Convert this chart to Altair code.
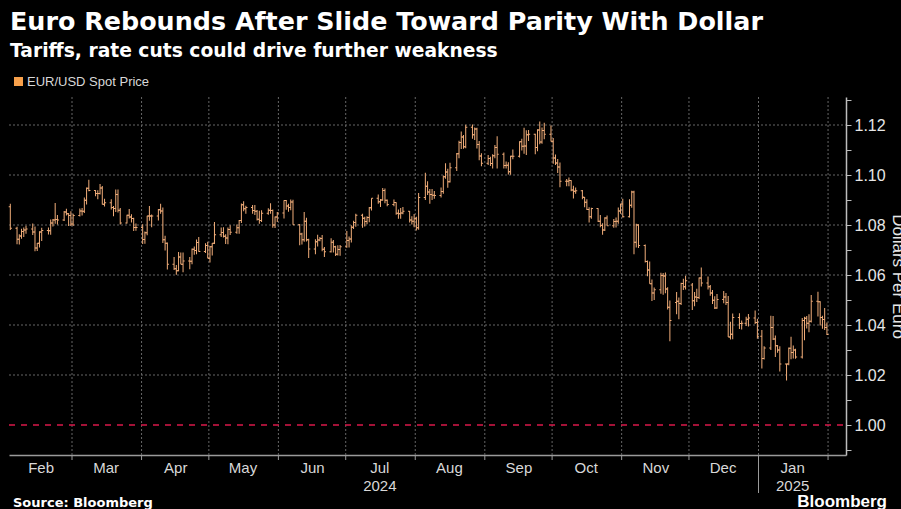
import altair as alt
import pandas as pd

# ---------------- data: daily EUR/USD bars (day, open, high, low, close) ----------------
feb_2024 = [
    (2, 1.0873, 1.0885, 1.0780, 1.0787), (5, 1.0787, 1.0793, 1.0723, 1.0743),
    (6, 1.0743, 1.0763, 1.0722, 1.0756), (7, 1.0756, 1.0785, 1.0745, 1.0774),
    (8, 1.0774, 1.0790, 1.0752, 1.0780), (9, 1.0780, 1.0797, 1.0765, 1.0784),
    (12, 1.0784, 1.0806, 1.0760, 1.0772), (13, 1.0772, 1.0794, 1.0695, 1.0708),
    (14, 1.0708, 1.0728, 1.0696, 1.0727), (15, 1.0727, 1.0775, 1.0710, 1.0772),
    (16, 1.0772, 1.0789, 1.0736, 1.0778), (19, 1.0778, 1.0790, 1.0762, 1.0777),
    (20, 1.0777, 1.0822, 1.0761, 1.0808), (21, 1.0808, 1.0824, 1.0794, 1.0820),
    (22, 1.0820, 1.0888, 1.0805, 1.0822), (23, 1.0822, 1.0840, 1.0802, 1.0820),
    (26, 1.0820, 1.0856, 1.0816, 1.0852), (27, 1.0852, 1.0865, 1.0838, 1.0845),
    (28, 1.0845, 1.0848, 1.0796, 1.0838), (29, 1.0838, 1.0855, 1.0796, 1.0804),
]
mar_2024 = [
    (1, 1.0804, 1.0845, 1.0796, 1.0838), (4, 1.0838, 1.0866, 1.0834, 1.0856),
    (5, 1.0856, 1.0868, 1.0838, 1.0855), (6, 1.0855, 1.0910, 1.0848, 1.0899),
    (7, 1.0899, 1.0950, 1.0882, 1.0947), (8, 1.0947, 1.0981, 1.0935, 1.0938),
    (11, 1.0938, 1.0940, 1.0915, 1.0926), (12, 1.0926, 1.0939, 1.0903, 1.0926),
    (13, 1.0926, 1.0964, 1.0922, 1.0948), (14, 1.0948, 1.0956, 1.0882, 1.0883),
    (15, 1.0883, 1.0905, 1.0874, 1.0889), (18, 1.0889, 1.0903, 1.0862, 1.0870),
    (19, 1.0870, 1.0876, 1.0835, 1.0866), (20, 1.0866, 1.0942, 1.0852, 1.0922),
    (21, 1.0922, 1.0942, 1.0850, 1.0859), (22, 1.0859, 1.0868, 1.0802, 1.0808),
    (25, 1.0808, 1.0841, 1.0806, 1.0839), (26, 1.0839, 1.0864, 1.0826, 1.0832),
    (27, 1.0832, 1.0843, 1.0810, 1.0826), (28, 1.0826, 1.0829, 1.0776, 1.0790),
    (29, 1.0790, 1.0806, 1.0777, 1.0790),
]
apr_2024 = [
    (1, 1.0790, 1.0803, 1.0724, 1.0742), (2, 1.0742, 1.0774, 1.0725, 1.0769),
    (3, 1.0769, 1.0837, 1.0759, 1.0836), (4, 1.0836, 1.0876, 1.0817, 1.0836),
    (5, 1.0836, 1.0842, 1.0791, 1.0836), (8, 1.0836, 1.0864, 1.0818, 1.0861),
    (9, 1.0861, 1.0885, 1.0845, 1.0856), (10, 1.0856, 1.0870, 1.0728, 1.0741),
    (11, 1.0741, 1.0757, 1.0698, 1.0727), (12, 1.0727, 1.0730, 1.0622, 1.0643),
    (15, 1.0643, 1.0672, 1.0620, 1.0625), (16, 1.0625, 1.0640, 1.0601, 1.0617),
    (17, 1.0617, 1.0692, 1.0615, 1.0672), (18, 1.0672, 1.0690, 1.0643, 1.0643),
    (19, 1.0643, 1.0690, 1.0611, 1.0656), (22, 1.0656, 1.0672, 1.0623, 1.0655),
    (23, 1.0655, 1.0706, 1.0643, 1.0703), (24, 1.0703, 1.0714, 1.0681, 1.0698),
    (25, 1.0698, 1.0742, 1.0683, 1.0730), (26, 1.0730, 1.0752, 1.0693, 1.0694),
    (29, 1.0694, 1.0727, 1.0688, 1.0718), (30, 1.0718, 1.0733, 1.0667, 1.0667),
]
may_2024 = [
    (1, 1.0667, 1.0716, 1.0650, 1.0713), (2, 1.0713, 1.0728, 1.0678, 1.0727),
    (3, 1.0727, 1.0812, 1.0724, 1.0761), (6, 1.0761, 1.0790, 1.0752, 1.0770),
    (7, 1.0770, 1.0791, 1.0750, 1.0755), (8, 1.0755, 1.0763, 1.0724, 1.0748),
    (9, 1.0748, 1.0790, 1.0723, 1.0782), (10, 1.0782, 1.0799, 1.0760, 1.0771),
    (13, 1.0771, 1.0802, 1.0765, 1.0789), (14, 1.0789, 1.0820, 1.0765, 1.0818),
    (15, 1.0818, 1.0886, 1.0808, 1.0881), (16, 1.0881, 1.0895, 1.0855, 1.0865),
    (17, 1.0865, 1.0877, 1.0845, 1.0870), (20, 1.0870, 1.0880, 1.0845, 1.0858),
    (21, 1.0858, 1.0880, 1.0840, 1.0855), (22, 1.0855, 1.0860, 1.0818, 1.0823),
    (23, 1.0823, 1.0857, 1.0805, 1.0818), (24, 1.0818, 1.0859, 1.0812, 1.0847),
    (27, 1.0847, 1.0867, 1.0841, 1.0859), (28, 1.0859, 1.0887, 1.0845, 1.0858),
    (29, 1.0858, 1.0862, 1.0789, 1.0800), (30, 1.0800, 1.0834, 1.0788, 1.0832),
    (31, 1.0832, 1.0852, 1.0812, 1.0848),
]
jun_2024 = [
    (3, 1.0848, 1.0899, 1.0826, 1.0898), (4, 1.0898, 1.0900, 1.0861, 1.0876),
    (5, 1.0876, 1.0885, 1.0853, 1.0870), (6, 1.0870, 1.0902, 1.0859, 1.0892),
    (7, 1.0892, 1.0901, 1.0801, 1.0801), (10, 1.0801, 1.0804, 1.0719, 1.0764),
    (11, 1.0764, 1.0769, 1.0722, 1.0741), (12, 1.0741, 1.0852, 1.0733, 1.0815),
    (13, 1.0815, 1.0829, 1.0734, 1.0741), (14, 1.0741, 1.0745, 1.0668, 1.0704),
    (17, 1.0704, 1.0743, 1.0683, 1.0733), (18, 1.0733, 1.0761, 1.0714, 1.0740),
    (19, 1.0740, 1.0752, 1.0735, 1.0746), (20, 1.0746, 1.0760, 1.0695, 1.0703),
    (21, 1.0703, 1.0712, 1.0672, 1.0693), (24, 1.0693, 1.0747, 1.0690, 1.0731),
    (25, 1.0731, 1.0740, 1.0690, 1.0713), (26, 1.0713, 1.0717, 1.0676, 1.0683),
    (27, 1.0683, 1.0719, 1.0678, 1.0702), (28, 1.0702, 1.0720, 1.0677, 1.0713),
]
jul_2024 = [
    (1, 1.0713, 1.0776, 1.0709, 1.0738), (2, 1.0738, 1.0754, 1.0710, 1.0744),
    (3, 1.0744, 1.0799, 1.0730, 1.0791), (4, 1.0791, 1.0817, 1.0784, 1.0810),
    (5, 1.0810, 1.0845, 1.0793, 1.0839), (8, 1.0839, 1.0845, 1.0789, 1.0827),
    (9, 1.0827, 1.0833, 1.0794, 1.0814), (10, 1.0814, 1.0835, 1.0803, 1.0830),
    (11, 1.0830, 1.0872, 1.0811, 1.0869), (12, 1.0869, 1.0907, 1.0858, 1.0907),
    (15, 1.0907, 1.0922, 1.0885, 1.0893), (16, 1.0893, 1.0904, 1.0872, 1.0900),
    (17, 1.0900, 1.0948, 1.0897, 1.0938), (18, 1.0938, 1.0946, 1.0887, 1.0899),
    (19, 1.0899, 1.0902, 1.0875, 1.0882), (22, 1.0882, 1.0902, 1.0875, 1.0890),
    (23, 1.0890, 1.0891, 1.0841, 1.0847), (24, 1.0847, 1.0862, 1.0825, 1.0845),
    (25, 1.0845, 1.0868, 1.0825, 1.0848), (26, 1.0848, 1.0872, 1.0843, 1.0855),
    (29, 1.0855, 1.0856, 1.0810, 1.0820), (30, 1.0820, 1.0835, 1.0802, 1.0815),
    (31, 1.0815, 1.0844, 1.0791, 1.0825),
]
aug_2024 = [
    (1, 1.0825, 1.0833, 1.0778, 1.0789), (2, 1.0789, 1.0928, 1.0781, 1.0910),
    (5, 1.0910, 1.1009, 1.0900, 1.0955), (6, 1.0955, 1.0975, 1.0920, 1.0932),
    (7, 1.0932, 1.0944, 1.0885, 1.0922), (8, 1.0922, 1.0944, 1.0900, 1.0919),
    (9, 1.0919, 1.0936, 1.0905, 1.0918), (12, 1.0918, 1.0950, 1.0910, 1.0934),
    (13, 1.0934, 1.0998, 1.0925, 1.0993), (14, 1.0993, 1.1047, 1.0985, 1.1012),
    (15, 1.1012, 1.1025, 1.0949, 1.0973), (16, 1.0973, 1.1049, 1.0970, 1.1029),
    (19, 1.1029, 1.1088, 1.1016, 1.1085), (20, 1.1085, 1.1137, 1.1067, 1.1130),
    (21, 1.1130, 1.1174, 1.1104, 1.1152), (22, 1.1152, 1.1160, 1.1105, 1.1113),
    (23, 1.1113, 1.1201, 1.1107, 1.1191), (26, 1.1191, 1.1202, 1.1145, 1.1161),
    (27, 1.1161, 1.1190, 1.1140, 1.1184), (28, 1.1184, 1.1189, 1.1106, 1.1122),
    (29, 1.1122, 1.1136, 1.1059, 1.1076), (30, 1.1076, 1.1087, 1.1035, 1.1047),
]
sep_2024 = [
    (2, 1.1047, 1.1080, 1.1040, 1.1066), (3, 1.1066, 1.1073, 1.1036, 1.1046),
    (4, 1.1046, 1.1083, 1.1026, 1.1077), (5, 1.1077, 1.1120, 1.1067, 1.1110),
    (6, 1.1110, 1.1155, 1.1026, 1.1083), (9, 1.1083, 1.1090, 1.1026, 1.1038),
    (10, 1.1038, 1.1054, 1.1026, 1.1039), (11, 1.1039, 1.1051, 1.1002, 1.1013),
    (12, 1.1013, 1.1077, 1.1001, 1.1075), (13, 1.1075, 1.1102, 1.1063, 1.1075),
    (16, 1.1075, 1.1135, 1.1070, 1.1133), (17, 1.1133, 1.1145, 1.1098, 1.1115),
    (18, 1.1115, 1.1189, 1.1085, 1.1116), (19, 1.1116, 1.1179, 1.1080, 1.1161),
    (20, 1.1161, 1.1180, 1.1136, 1.1163), (23, 1.1163, 1.1165, 1.1083, 1.1110),
    (24, 1.1110, 1.1183, 1.1095, 1.1180), (25, 1.1180, 1.1214, 1.1123, 1.1132),
    (26, 1.1132, 1.1190, 1.1125, 1.1178), (27, 1.1178, 1.1209, 1.1143, 1.1163),
    (30, 1.1163, 1.1198, 1.1134, 1.1135),
]
oct_2024 = [
    (1, 1.1135, 1.1148, 1.1045, 1.1068), (2, 1.1068, 1.1082, 1.1040, 1.1048),
    (3, 1.1048, 1.1064, 1.1008, 1.1032), (4, 1.1032, 1.1050, 1.0951, 1.0975),
    (7, 1.0975, 1.0984, 1.0955, 1.0975), (8, 1.0975, 1.0990, 1.0955, 1.0978),
    (9, 1.0978, 1.0979, 1.0935, 1.0940), (10, 1.0940, 1.0957, 1.0906, 1.0935),
    (11, 1.0935, 1.0950, 1.0925, 1.0937), (14, 1.0937, 1.0940, 1.0903, 1.0911),
    (15, 1.0911, 1.0912, 1.0871, 1.0891), (16, 1.0891, 1.0903, 1.0860, 1.0862),
    (17, 1.0862, 1.0871, 1.0810, 1.0833), (18, 1.0833, 1.0869, 1.0825, 1.0866),
    (21, 1.0866, 1.0867, 1.0812, 1.0815), (22, 1.0815, 1.0840, 1.0791, 1.0798),
    (23, 1.0798, 1.0807, 1.0761, 1.0780), (24, 1.0780, 1.0831, 1.0776, 1.0828),
    (25, 1.0828, 1.0838, 1.0798, 1.0797), (28, 1.0797, 1.0824, 1.0789, 1.0814),
    (29, 1.0814, 1.0830, 1.0790, 1.0815), (30, 1.0815, 1.0870, 1.0805, 1.0856),
    (31, 1.0856, 1.0885, 1.0845, 1.0884),
]
nov_2024 = [
    (1, 1.0884, 1.0905, 1.0830, 1.0833), (4, 1.0833, 1.0903, 1.0830, 1.0879),
    (5, 1.0879, 1.0937, 1.0869, 1.0932), (6, 1.0932, 1.0937, 1.0683, 1.0731),
    (7, 1.0731, 1.0805, 1.0710, 1.0800), (8, 1.0800, 1.0803, 1.0708, 1.0718),
    (11, 1.0718, 1.0722, 1.0650, 1.0654), (12, 1.0654, 1.0658, 1.0595, 1.0620),
    (13, 1.0620, 1.0654, 1.0565, 1.0565), (14, 1.0565, 1.0582, 1.0496, 1.0528),
    (15, 1.0528, 1.0550, 1.0500, 1.0541), (18, 1.0541, 1.0609, 1.0525, 1.0598),
    (19, 1.0598, 1.0608, 1.0521, 1.0596), (20, 1.0596, 1.0610, 1.0527, 1.0544),
    (21, 1.0544, 1.0551, 1.0462, 1.0471), (22, 1.0471, 1.0498, 1.0335, 1.0418),
    (25, 1.0490, 1.0532, 1.0443, 1.0495), (26, 1.0495, 1.0510, 1.0423, 1.0486),
    (27, 1.0486, 1.0569, 1.0480, 1.0566), (28, 1.0566, 1.0585, 1.0540, 1.0553),
    (29, 1.0553, 1.0597, 1.0542, 1.0577),
]
dec_2024 = [
    (2, 1.0560, 1.0568, 1.0460, 1.0497), (3, 1.0497, 1.0532, 1.0475, 1.0512),
    (4, 1.0512, 1.0545, 1.0492, 1.0510), (5, 1.0510, 1.0590, 1.0504, 1.0588),
    (6, 1.0588, 1.0630, 1.0554, 1.0568), (9, 1.0568, 1.0594, 1.0542, 1.0553),
    (10, 1.0553, 1.0560, 1.0517, 1.0528), (11, 1.0528, 1.0540, 1.0484, 1.0499),
    (12, 1.0499, 1.0515, 1.0464, 1.0468), (13, 1.0468, 1.0524, 1.0465, 1.0502),
    (16, 1.0502, 1.0536, 1.0487, 1.0512), (17, 1.0512, 1.0528, 1.0480, 1.0490),
    (18, 1.0490, 1.0516, 1.0352, 1.0352), (19, 1.0352, 1.0413, 1.0342, 1.0363),
    (20, 1.0363, 1.0446, 1.0343, 1.0430), (23, 1.0430, 1.0447, 1.0384, 1.0406),
    (24, 1.0406, 1.0418, 1.0382, 1.0407), (26, 1.0407, 1.0433, 1.0396, 1.0423),
    (27, 1.0423, 1.0444, 1.0394, 1.0428), (30, 1.0428, 1.0458, 1.0404, 1.0410),
    (31, 1.0410, 1.0425, 1.0345, 1.0355),
]
jan_2025 = [
    (2, 1.0355, 1.0380, 1.0226, 1.0266), (3, 1.0266, 1.0315, 1.0262, 1.0308),
    (6, 1.0308, 1.0437, 1.0300, 1.0390), (7, 1.0390, 1.0436, 1.0340, 1.0344),
    (8, 1.0344, 1.0358, 1.0272, 1.0317), (9, 1.0317, 1.0320, 1.0289, 1.0300),
    (10, 1.0300, 1.0315, 1.0214, 1.0244), (13, 1.0244, 1.0245, 1.0178, 1.0244),
    (14, 1.0244, 1.0310, 1.0239, 1.0307), (15, 1.0307, 1.0353, 1.0263, 1.0290),
    (16, 1.0290, 1.0318, 1.0266, 1.0300), (17, 1.0300, 1.0305, 1.0265, 1.0272),
    (20, 1.0272, 1.0428, 1.0266, 1.0418), (21, 1.0418, 1.0433, 1.0339, 1.0427),
    (22, 1.0427, 1.0436, 1.0386, 1.0407), (23, 1.0407, 1.0443, 1.0371, 1.0415),
    (24, 1.0415, 1.0520, 1.0410, 1.0495), (27, 1.0495, 1.0533, 1.0434, 1.0493),
    (28, 1.0493, 1.0495, 1.0398, 1.0430), (29, 1.0430, 1.0437, 1.0385, 1.0422),
    (30, 1.0422, 1.0468, 1.0380, 1.0390), (31, 1.0390, 1.0410, 1.0360, 1.0362),
]

series_name = "EUR/USD Spot Price"
month_starts = ["2024-03-01", "2024-04-01", "2024-05-01", "2024-06-01", "2024-07-01",
                "2024-08-01", "2024-09-01", "2024-10-01", "2024-11-01", "2024-12-01",
                "2025-01-01", "2025-02-01"]
year_break = ["2025-01-01"]
y_grid = [1.02, 1.04, 1.06, 1.08, 1.10, 1.12]
parity = [1.00]
y_ticks = [0.99, 1.00, 1.01, 1.02, 1.03, 1.04, 1.05, 1.06, 1.07, 1.08, 1.09, 1.10, 1.11, 1.12, 1.13]
label_months = [(2024, m) for m in range(2, 13)] + [(2025, 1)]

months = [(2024, 2, feb_2024), (2024, 3, mar_2024), (2024, 4, apr_2024), (2024, 5, may_2024),
          (2024, 6, jun_2024), (2024, 7, jul_2024), (2024, 8, aug_2024), (2024, 9, sep_2024),
          (2024, 10, oct_2024), (2024, 11, nov_2024), (2024, 12, dec_2024), (2025, 1, jan_2025)]
rows = []
for yr, mo, arr in months:
    for d, o, h, l, c in arr:
        rows.append({"date": f"{yr}-{mo:02d}-{d:02d}T12:00:00", "open": o, "high": h,
                     "low": l, "close": c, "series": series_name})
bars_df = pd.DataFrame(rows)

# ---------------- layout / style ----------------
W, H = 837, 358
FONT = "Liberation Sans"
BOLD = "DejaVu Sans"
ORANGE = "#f2ae7a"
LEG_ORANGE = "#f7a04b"
GRID = "#666666"

xscale = alt.Scale(domain=[alt.DateTime(year=2024, month=2, date=1, hours=22),
                           alt.DateTime(year=2025, month=2, date=9)])
xaxis = alt.Axis(
    title=None,
    values=[alt.DateTime(year=y, month=m, date=16) for (y, m) in label_months],
    grid=False, ticks=False, domain=True, domainColor="#9a9a9a", domainWidth=1.5,
    labelColor="#d8d8d8", labelFontSize=15, labelFont=FONT, labelPadding=5,
    labelLineHeight=18, labelAlign="center",
    labelExpr="month(datum.value)==6 ? ['Jul','2024'] : (month(datum.value)==0 ? ['Jan','2025'] : timeFormat(datum.value, '%b'))",
)
yscale = alt.Scale(domain=[0.988, 1.1312], nice=False, zero=False)
yaxis = alt.Axis(
    title="Dollars Per Euro", orient="right", values=y_ticks, grid=False,
    domainColor="#bdbdbd", domainWidth=1.5, tickColor="#bdbdbd", tickSize=5,
    labelColor="#e6e6e6", labelFontSize=16, labelFont=FONT, labelPadding=3,
    labelExpr="round(datum.value*100) % 2 == 0 ? format(datum.value, '.2f') : ''",
    titleColor="#e6e6e6", titleFontSize=17, titleFont=FONT, titleFontWeight="normal",
    titleAngle=90, titleX=46, titleY=H / 2, titleAlign="center", titleBaseline="alphabetic",
)


def X(field="date:T"):
    return alt.X(field, scale=xscale, axis=xaxis)


def Y(field):
    return alt.Y(field, scale=yscale, axis=yaxis)


color = alt.Color("series:N", scale=alt.Scale(domain=[series_name], range=[ORANGE]),
                  legend=alt.Legend(title=None, orient="none", legendX=3, legendY=-22,
                                    symbolType="square", symbolSize=81,
                                    symbolFillColor=LEG_ORANGE, symbolStrokeColor=LEG_ORANGE,
                                    symbolStrokeWidth=0, labelColor="#d8d8d8",
                                    labelFontSize=13, labelFont=FONT, labelOffset=2))

vgrid = alt.Chart(pd.DataFrame({"date": month_starts})).mark_rule(
    color=GRID, strokeDash=[2, 2], strokeWidth=1).encode(
    x=X(), y=alt.value(0), y2=alt.value(H))
xticks = alt.Chart(pd.DataFrame({"date": month_starts})).mark_rule(
    color="#9a9a9a", strokeWidth=1).encode(x=X(), y=alt.value(H), y2=alt.value(H + 5))
ybreak = alt.Chart(pd.DataFrame({"date": year_break})).mark_rule(
    color="#9a9a9a", strokeWidth=1).encode(x=X(), y=alt.value(H), y2=alt.value(H + 38))
hgrid = alt.Chart(pd.DataFrame({"value": y_grid})).mark_rule(
    color=GRID, strokeDash=[2, 2], strokeWidth=1).encode(
    y=Y("value:Q"), x=alt.value(0), x2=alt.value(W))
par = alt.Chart(pd.DataFrame({"value": parity})).mark_rule(
    color="#d9194a", strokeDash=[6, 6], strokeWidth=1.5).encode(
    y=Y("value:Q"), x=alt.value(0), x2=alt.value(W))

base = alt.Chart(bars_df)
hl = base.mark_rule(strokeWidth=1).encode(x=X(), y=Y("low:Q"), y2="high:Q", color=color)
op = base.mark_rule(strokeWidth=1, xOffset=-1.6).encode(
    x=X(), x2="date:T", y=Y("open:Q"), color=color)
cl = base.mark_rule(strokeWidth=1, x2Offset=1.6).encode(
    x=X(), x2="date:T", y=Y("close:Q"), color=color)

src = alt.Chart(pd.DataFrame({"t": ["Source: Bloomberg"]})).mark_text(
    align="left", baseline="alphabetic", font=BOLD, fontSize=13, fontWeight="bold",
    color="#ffffff").encode(text="t:N", x=alt.value(4), y=alt.value(410))
logo = alt.Chart(pd.DataFrame({"t": ["Bloomberg"]})).mark_text(
    align="right", baseline="alphabetic", font=FONT, fontSize=17, fontWeight="bold",
    color="#ffffff").encode(text="t:N", x=alt.value(878), y=alt.value(410))

chart = alt.layer(vgrid, hgrid, par, xticks, ybreak, hl, op, cl, src, logo).properties(
    width=W, height=H,
    padding={"left": 1, "top": 89, "right": 55, "bottom": 54},
    autosize=alt.AutoSizeParams(type="none"),
    title=alt.TitleParams(
        text="Euro Rebounds After Slide Toward Parity With Dollar",
        subtitle="Tariffs, rate cuts could drive further weakness",
        anchor="start", frame="group", font=BOLD, subtitleFont=BOLD,
        fontSize=25.4, subtitleFontSize=18.7, fontWeight="bold", subtitleFontWeight="bold",
        color="#ffffff", subtitleColor="#ffffff", offset=14, subtitlePadding=7, dx=1),
).configure(background="#000000").configure_view(stroke=None)

chart.save("out.html", embed_options={
    "renderer": "svg", "actions": False,
    "defaultStyle": "html, body { background: #000000; } body { margin: 8px 0 0 8px; overflow: hidden; }",
})
